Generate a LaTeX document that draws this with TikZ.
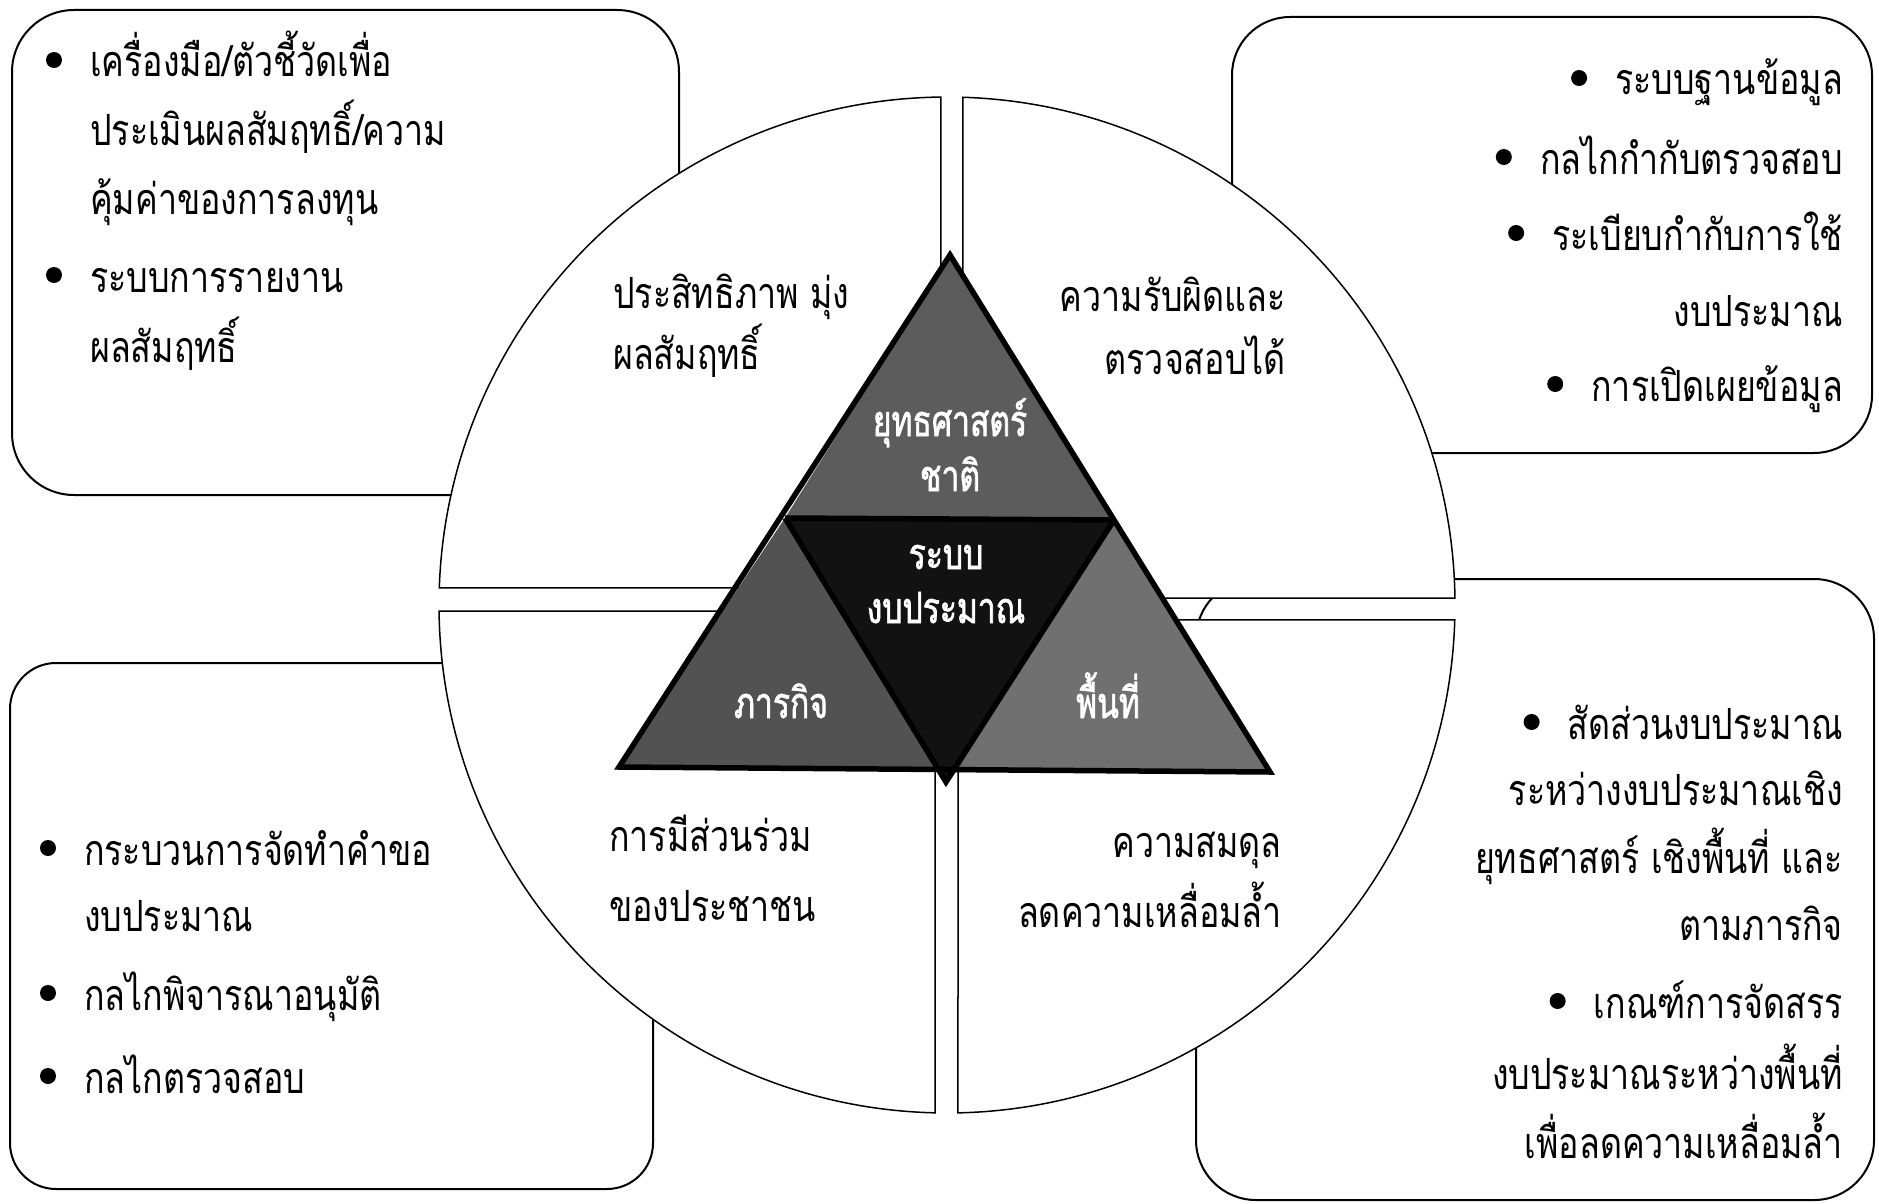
\documentclass[tikz,border=0pt]{standalone}
\usepackage{fontspec}
\newfontfamily\thaifont[Script=Thai,FakeStretch=0.79]{Loma}
\newfontfamily\thaibold[Script=Thai,FakeStretch=0.74,FakeBold=1.5]{Loma}
\newcommand{\tsize}{\fontsize{43}{50}\selectfont}
\begin{document}
\begin{tikzpicture}[x=1pt,y=-1pt,
  boxline/.style={draw=black, line width=2pt, fill=white},
  quad/.style={draw=black, line width=1.5pt, fill=white},
  triedge/.style={draw=black, line width=5.5pt, line join=miter},
  txt/.style={font=\thaifont\tsize, inner sep=0pt},
  wtxt/.style={font=\thaibold\tsize, inner sep=0pt, text=white},
  bul/.style={circle, fill=black, minimum size=16pt, inner sep=0pt}]
\useasboundingbox (0,0) rectangle (1879,1204);
\fill[white] (0,0) rectangle (1879,1204);
% boxes
\draw[boxline, rounded corners=62pt] (12,10) rectangle (679,495);
\draw[boxline, rounded corners=58pt] (1232,17) rectangle (1872,453);
\draw[boxline, rounded corners=46pt] (10,663) rectangle (653,1189);
\draw[boxline, rounded corners=60pt] (1196,579) rectangle (1874,1200);
% circle quadrants
\draw[quad] (947,605) ++(181.92:508) arc[start angle=181.92,end angle=269.32,radius=508] -- (941,588) -- cycle;
\draw[quad] (947,605) ++(271.80:508) arc[start angle=271.80,end angle=359.21,radius=508] -- (963,598) -- cycle;
\draw[quad] (947,605) ++(91.35:508) arc[start angle=91.35,end angle=179.32,radius=508] -- (935,611) -- cycle;
\draw[quad] (947,605) ++(1.69:508) arc[start angle=1.69,end angle=88.76,radius=508] -- (958,620) -- cycle;
% triangle points
\coordinate (A) at (950,255);
\coordinate (L) at (785,518);
\coordinate (R) at (1114,520);
\coordinate (BL) at (619,767);
\coordinate (BR) at (1270,772);
\coordinate (M) at (946,782);
\coordinate (Pl) at (938,767);
\coordinate (Pr) at (955,772);
\fill[black!64] (A) -- (L) -- (R) -- cycle;
\fill[black!68] (L) -- (BL) -- (Pl) -- cycle;
\fill[black!56] (R) -- (Pr) -- (BR) -- cycle;
\fill[black!93] (L) -- (R) -- (M) -- cycle;
\draw[triedge] (A) -- (BL) -- (BR) -- cycle;
\draw[triedge] (L) -- (R);
\draw[triedge] (L) -- (M) -- (R);
% triangle texts
\node[wtxt, anchor=base] (t1) at (950,436) {ยุทธศาสตร์};
\node[wtxt, anchor=base] (t2) at (950,491) {ชาติ};
\node[wtxt, anchor=base] (t3) at (946,569) {ระบบ};
\node[wtxt, anchor=base] (t4) at (946,623) {งบประมาณ};
\node[wtxt, anchor=base] (t5) at (781,718) {ภารกิจ};
\node[wtxt, anchor=base] (t6) at (1108,718) {พื้นที่};
% quadrant texts
\node[txt, anchor=base west] (q1a) at (613,308) {ประสิทธิภาพ มุ่ง};
\node[txt, anchor=base west] (q1b) at (613,369) {ผลสัมฤทธิ์};
\node[txt, anchor=base east] (q2a) at (1286,311) {ความรับผิดและ};
\node[txt, anchor=base east] (q2b) at (1286,374) {ตรวจสอบได้};
\node[txt, anchor=base west] (q3a) at (609,851) {การมีส่วนร่วม};
\node[txt, anchor=base west] (q3b) at (609,921) {ของประชาชน};
\node[txt, anchor=base east] (q4a) at (1282,857) {ความสมดุล};
\node[txt, anchor=base east] (q4b) at (1282,927) {ลดความเหลื่อมล้ำ};
% top-left box
\node[txt, anchor=base west] (a1) at (90,77) {เครื่องมือ/ตัวชี้วัดเพื่อ};
\node[txt, anchor=base west] (a2) at (90,146) {ประเมินผลสัมฤทธิ์/ความ};
\node[txt, anchor=base west] (a3) at (90,214) {คุ้มค่าของการลงทุน};
\node[txt, anchor=base west] (a4) at (90,292) {ระบบการรายงาน};
\node[txt, anchor=base west] (a5) at (90,362) {ผลสัมฤทธิ์};
\node[bul] (ba1) at ([xshift=-36pt,yshift=17pt]a1.base west) {};
\node[bul] (ba4) at ([xshift=-36pt,yshift=17pt]a4.base west) {};
% top-right box
\node[txt, anchor=base east] (b1) at (1843,95) {ระบบฐานข้อมูล};
\node[txt, anchor=base east] (b2) at (1843,174) {กลไกกำกับตรวจสอบ};
\node[txt, anchor=base east] (b3) at (1843,250) {ระเบียบกำกับการใช้};
\node[txt, anchor=base east] (b4) at (1843,326) {งบประมาณ};
\node[txt, anchor=base east] (b5) at (1843,401) {การเปิดเผยข้อมูล};
\node[bul] (bb1) at ([xshift=-36pt,yshift=17pt]b1.base west) {};
\node[bul] (bb2) at ([xshift=-36pt,yshift=17pt]b2.base west) {};
\node[bul] (bb3) at ([xshift=-36pt,yshift=17pt]b3.base west) {};
\node[bul] (bb5) at ([xshift=-36pt,yshift=17pt]b5.base west) {};
% bottom-left box
\node[txt, anchor=base west] (c1) at (84,865) {กระบวนการจัดทำคำขอ};
\node[txt, anchor=base west] (c2) at (84,931) {งบประมาณ};
\node[txt, anchor=base west] (c3) at (84,1010) {กลไกพิจารณาอนุมัติ};
\node[txt, anchor=base west] (c4) at (84,1093) {กลไกตรวจสอบ};
\node[bul] (bc1) at ([xshift=-36pt,yshift=17pt]c1.base west) {};
\node[bul] (bc3) at ([xshift=-36pt,yshift=17pt]c3.base west) {};
\node[bul] (bc4) at ([xshift=-36pt,yshift=17pt]c4.base west) {};
% bottom-right box
\node[txt, anchor=base east] (d1) at (1843,739) {สัดส่วนงบประมาณ};
\node[txt, anchor=base east] (d2) at (1843,805) {ระหว่างงบประมาณเชิง};
\node[txt, anchor=base east] (d3) at (1843,873) {ยุทธศาสตร์ เชิงพื้นที่ และ};
\node[txt, anchor=base east] (d4) at (1843,940) {ตามภารกิจ};
\node[txt, anchor=base east] (d5) at (1843,1018) {เกณฑ์การจัดสรร};
\node[txt, anchor=base east] (d6) at (1843,1089) {งบประมาณระหว่างพื้นที่};
\node[txt, anchor=base east] (d7) at (1843,1158) {เพื่อลดความเหลื่อมล้ำ};
\node[bul] (bd1) at ([xshift=-36pt,yshift=17pt]d1.base west) {};
\node[bul] (bd5) at ([xshift=-36pt,yshift=17pt]d5.base west) {};
\end{tikzpicture}
\end{document}
